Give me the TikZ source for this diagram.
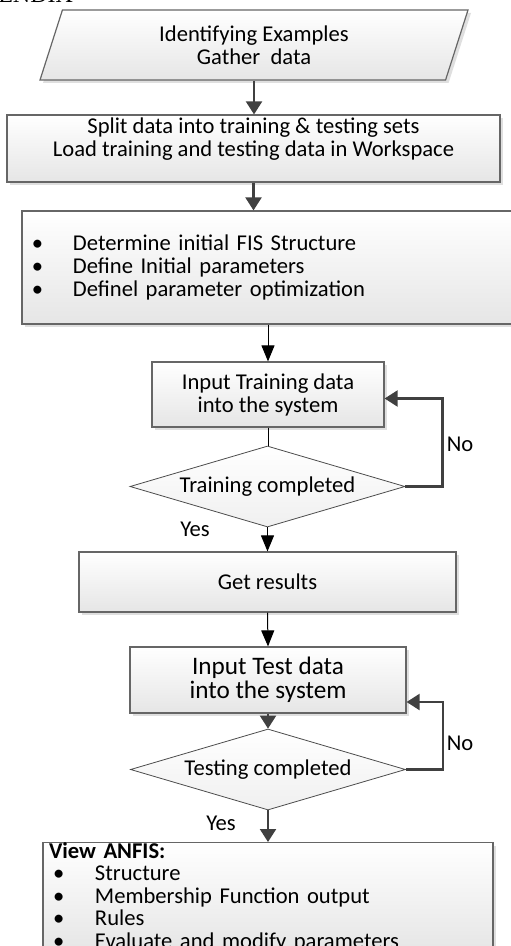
\documentclass[tikz,border=0pt]{standalone}
\usepackage{fontspec}
\setmainfont{Carlito}
\newfontfamily\headfont{Liberation Serif}
\usetikzlibrary{shapes.geometric,arrows.meta,shadows}

\begin{document}
\begin{tikzpicture}[x=0.5pt,y=-0.5pt,
	font=\fontsize{11.3}{11.5}\selectfont,
	shade/.style={top color=white,bottom color=black!10,
		drop shadow={shadow xshift=1.5pt,shadow yshift=-1.5pt,fill=black!25,opacity=0.5}},
	box/.style={rectangle,draw=black!60,line width=0.6pt,shade,align=center,inner sep=0pt},
	dec/.style={diamond,draw=black!70,line width=0.4pt,top color=white,bottom color=black!6,
		minimum width=137.5pt,minimum height=40.5pt,shape aspect=3.4,inner sep=0pt},
	arr/.style={-{Triangle[width=6.5pt,length=8pt]},line width=0.5pt},
	darr/.style={-{Triangle[width=8pt,length=6.5pt]},draw=black!75,line width=1.1pt}]
	\useasboundingbox (0,0) rectangle (510,946);
	\node[anchor=base east,font=\headfont\fontsize{12}{12}\selectfont] (head) at (80,3) {APPENDIX};
	% steps
	\node[trapezium,trapezium left angle=60,trapezium right angle=120,trapezium stretches body,
		draw=black!60,line width=0.6pt,shade,minimum width=214pt,minimum height=35pt,
		inner sep=0pt,align=center] (data) at (254,45) {Identifying Examples\\Gather\ \ data};
	\node[box,minimum width=246.5pt,minimum height=33.5pt] (split) at (253.5,148.5)
		{Split data into training \& testing sets\\Load training and testing data in Workspace\\\mbox{}};
	\node[box,minimum width=246pt,minimum height=56.5pt,text width=236pt,align=left,inner xsep=5pt] (fis) at (268,267.5)
		{\makebox[20.5pt][l]{\textbullet}Determine initial FIS Structure\\
		\makebox[20.5pt][l]{\textbullet}Define Initial parameters\\
		\makebox[20.5pt][l]{\textbullet}Definel parameter optimization};
	\node[box,minimum width=116pt,minimum height=32.5pt] (train) at (268,394.5) {Input Training data\\into the system};
	\node[dec] (d1) at (267.5,486.5) {Training completed};
	\node[box,minimum width=188.5pt,minimum height=30pt] (res) at (267.5,582) {Get results};
	\node[box,minimum width=138pt,minimum height=33pt,font=\fontsize{12.6}{12}\selectfont] (test) at (268,680)
		{Input Test data\\into the system};
	\node[dec] (d2) at (268,769.5) {Testing completed};
	\node[box,anchor=north,minimum width=225pt,text width=219pt,align=left,inner xsep=3pt,
		font=\fontsize{11.3}{11.2}\selectfont] (view) at (268,842)
		{\textbf{View ANFIS:}\\
		\hspace*{2pt}\makebox[21pt][l]{\textbullet}Structure\\
		\hspace*{2pt}\makebox[21pt][l]{\textbullet}Membership Function output\\
		\hspace*{2pt}\makebox[21pt][l]{\textbullet}Rules\\
		\hspace*{2pt}\makebox[21pt][l]{\textbullet}Evaluate and modify parameters};
	% labels
	\node (no1) at (460,444) {No};
	\node (yes1) at (195,529) {Yes};
	\node (no2) at (460,743) {No};
	\node (yes2) at (221,823) {Yes};
	% flow
	\draw[darr] (data.south) -- (data.south |- split.north);
	\draw[darr] (split.south) -- (split.south |- fis.north);
	\draw[arr] (fis.south) -- (train.north);
	\draw[line width=0.5pt] (train.south) -- (train.south |- d1.north);
	\draw[arr] (d1.south) -- (res.north);
	\draw[darr] (d1.east) -- ++(37,0) |- ([yshift=-2pt]train.east);
	\draw[arr] (res.south) -- (test.north);
	\draw[darr] (test.south) -- (d2.north);
	\draw[darr] (d2.east) -- ++(37,0) |- ([yshift=-11pt]test.east);
	\draw[darr] (d2.south) -- (view.north);
\end{tikzpicture}
\end{document}
